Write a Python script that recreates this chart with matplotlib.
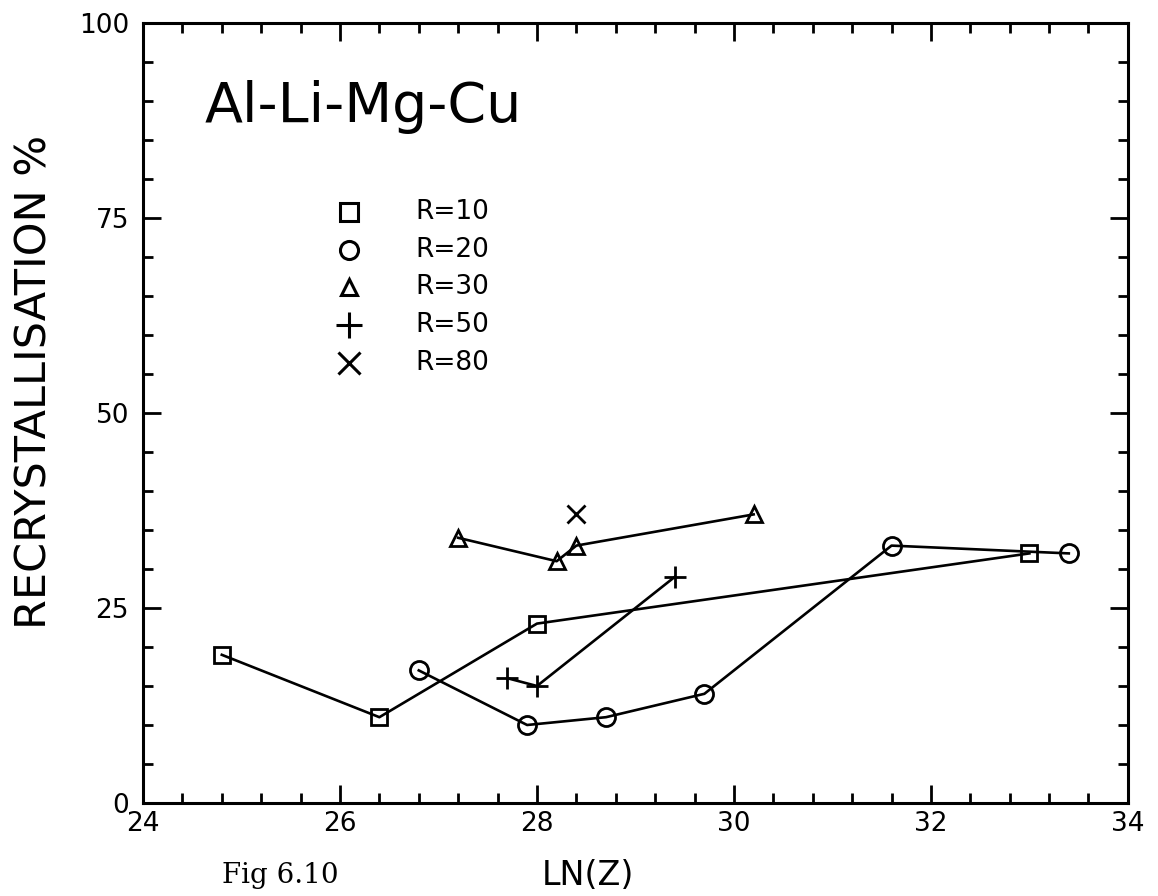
from matplotlib import pyplot as plt
from matplotlib.ticker import MultipleLocator

# recrystallisation vs ln(Z)
r10_x = [24.8, 26.4, 28.0, 33.0]
r10_y = [19, 11, 23, 32]
r20_x = [26.8, 27.9, 28.7, 29.7, 31.6, 33.4]
r20_y = [17, 10, 11, 14, 33, 32]
r30_x = [27.2, 28.2, 28.4, 30.2]
r30_y = [34, 31, 33, 37]
r50_x = [27.7, 28.0, 29.4]
r50_y = [16, 15, 29]
r80_x = [28.4]
r80_y = [37]

legend_labels = ["R=10", "R=20", "R=30", "R=50", "R=80"]

fig = plt.figure(figsize=(11.58, 8.96), dpi=100)
ax = fig.add_axes([0.1235, 0.1038, 0.8505, 0.8705])

mk = dict(color="black", lw=1.9, mfc="none", mec="black", mew=2)
ax.plot(r10_x, r10_y, marker="s", ms=12, **mk)
ax.plot(r20_x, r20_y, marker="o", ms=13, **mk)
ax.plot(r30_x, r30_y, marker="^", ms=11, **mk)
ax.plot(r50_x, r50_y, marker="+", ms=16, **mk)
ax.plot(r80_x, r80_y, marker="x", ms=13, ls="none", color="black", mew=2)

# hand-placed legend like the original plot
leg_markers = ["s", "o", "^", "+", "x"]
leg_sizes = [13, 13, 11, 19, 16]
for i, (m, s, lab) in enumerate(zip(leg_markers, leg_sizes, legend_labels)):
    yy = 0.758 - i * 0.0485
    ax.plot([0.209], [yy], marker=m, ms=s, mfc="none", mec="black", mew=2.2,
            transform=ax.transAxes, clip_on=False)
    ax.text(0.277, yy, lab, transform=ax.transAxes, fontsize=19,
            va="center", ha="left")

ax.text(0.063, 0.873, "Al-Li-Mg-Cu", transform=ax.transAxes, fontsize=40,
        va="baseline", ha="left")

ax.set_xlim(24, 34)
ax.set_ylim(0, 100)
ax.set_xticks([24, 26, 28, 30, 32, 34])
ax.set_yticks([0, 25, 50, 75, 100])
ax.xaxis.set_minor_locator(MultipleLocator(0.4))
ax.yaxis.set_minor_locator(MultipleLocator(5))
ax.tick_params(which="both", direction="in", top=True, right=True, width=2)
ax.tick_params(which="major", length=13, labelsize=19)
ax.tick_params(axis="y", which="major", pad=10)
ax.tick_params(axis="x", which="major", pad=6)
ax.tick_params(which="minor", length=7)
for sp in ax.spines.values():
    sp.set_linewidth(2.2)

ax.set_ylabel("RECRYSTALLISATION %", fontsize=31)
ax.yaxis.set_label_coords(-0.089, 0.54)
ax.set_xlabel("LN(Z)", fontsize=24)
ax.xaxis.set_label_coords(0.452, -0.072)
fig.text(0.192, 0.015, "Fig 6.10", fontsize=20, family="DejaVu Serif")

plt.savefig("out.png", dpi=100)
